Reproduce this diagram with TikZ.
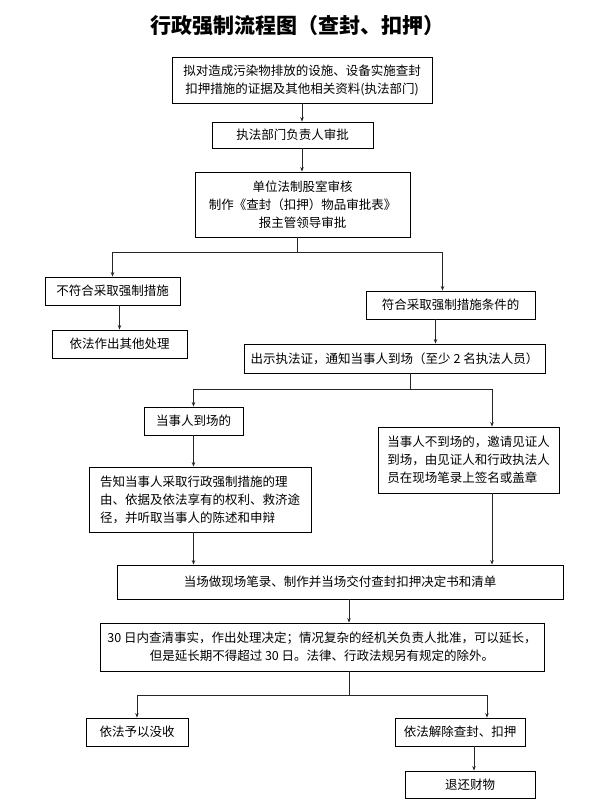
\documentclass[tikz,border=0pt]{standalone}
\usepackage{fontspec}
\newfontfamily\cjk{Noto Sans CJK SC}
\usetikzlibrary{arrows.meta}

\begin{document}
\begin{tikzpicture}[x=1pt, y=-1pt,
    stepnode/.style={draw, line width=0.8pt, inner sep=0pt, align=center,
      font=\cjk\fontsize{12.5}{18}\selectfont},
    link/.style={line width=0.8pt, black!85},
    arr/.style={link, -{Stealth[length=4.5pt, width=3.5pt]}}]
  \useasboundingbox (0,0) rectangle (592,806);
  \node[font=\cjk\bfseries\fontsize{21}{24}\selectfont] (title) at (297,26)
    {行政强制流程图（查封、扣押）};
  % upper part
  \node[stepnode, minimum width=260pt, minimum height=46pt] (plan) at (302,80)
    {拟对造成污染物排放的设施、设备实施查封\\扣押措施的证据及其他相关资料(执法部门)};
  \node[stepnode, minimum width=161pt, minimum height=26pt] (approve) at (292.5,135)
    {执法部门负责人审批};
  \node[stepnode, minimum width=215pt, minimum height=65pt] (review) at (302.5,204.5)
    {单位法制股室审核\\制作《查封（扣押）物品审批表》\\报主管领导审批};
  \node[stepnode, minimum width=135pt, minimum height=28pt] (notfit) at (112.5,291)
    {不符合采取强制措施};
  \node[stepnode, minimum width=135pt, minimum height=28pt] (other) at (119.5,344)
    {依法作出其他处理};
  \node[stepnode, minimum width=169pt, minimum height=28pt] (fit) at (450.5,305)
    {符合采取强制措施条件的};
  \node[stepnode, minimum width=301pt, minimum height=29pt] (notice) at (394.5,358.5)
    {出示执法证，通知当事人到场（至少 2 名执法人员）};
  % middle part
  \node[stepnode, minimum width=99pt, minimum height=28pt] (present) at (193.5,421)
    {当事人到场的};
  \node[stepnode, align=left, minimum width=181pt, minimum height=66pt] (absent) at (468.5,460)
    {当事人不到场的，邀请见证人\\到场，由见证人和行政执法人\\员在现场笔录上签名或盖章};
  \node[stepnode, align=left, minimum width=222pt, minimum height=65pt] (inform) at (200,499.5)
    {告知当事人采取行政强制措施的理\\由、依据及依法享有的权利、救济途\\径，并听取当事人的陈述和申辩};
  \node[stepnode, minimum width=446pt, minimum height=34pt] (record) at (340,582)
    {当场做现场笔录、制作并当场交付查封扣押决定书和清单};
  \node[stepnode, minimum width=444pt, minimum height=48pt] (decide) at (322,647)
    {30 日内查清事实，作出处理决定；情况复杂的经机关负责人批准，可以延长，\\但是延长期不得超过 30 日。法律、行政法规另有规定的除外。};
  % lower part
  \node[stepnode, minimum width=102pt, minimum height=28pt] (confiscate) at (137,732)
    {依法予以没收};
  \node[stepnode, minimum width=130pt, minimum height=28pt] (release) at (460,732)
    {依法解除查封、扣押};
  \node[stepnode, minimum width=130pt, minimum height=27pt] (giveback) at (470,784.5)
    {退还财物};

  % connectors
  \draw[arr] (plan.south) -- (plan.south |- approve.north);
  \draw[arr] (approve.south -| plan.south) -- (plan.south |- review.north);
  \coordinate (split1) at (297,252);
  \draw[link] (review.south -| split1) -- (split1);
  \draw[arr] (split1) -| (notfit.north);
  \draw[arr] (split1) -| ([xshift=-8pt]fit.north);
  \draw[arr] (other.north |- notfit.south) -- (other.north);
  \draw[arr] ([xshift=-15pt]fit.south) -- ([xshift=-15pt]fit.south |- notice.north);
  \coordinate (split2) at (410,389);
  \draw[link] (notice.south -| split2) -- (split2);
  \draw[arr] (split2) -| (present.north);
  \draw[arr] (split2) -| ([xshift=23.5pt]absent.north);
  \draw[arr] (present.south) -- (present.south |- inform.north);
  \draw[arr] (present.south |- inform.south) -- (present.south |- record.north);
  \draw[arr] ([xshift=23.5pt]absent.south) -- ([xshift=23.5pt]absent.south |- record.north);
  \coordinate (split3) at (349,695);
  \draw[arr] (record.south -| split3) -- (decide.north -| split3);
  \draw[link] (decide.south -| split3) -- (split3);
  \draw[arr] (split3) -| (confiscate.north);
  \draw[arr] (split3) -| ([xshift=27pt]release.north);
  \draw[arr] ([xshift=14pt]release.south) -- ([xshift=14pt]release.south |- giveback.north);
\end{tikzpicture}
\end{document}
